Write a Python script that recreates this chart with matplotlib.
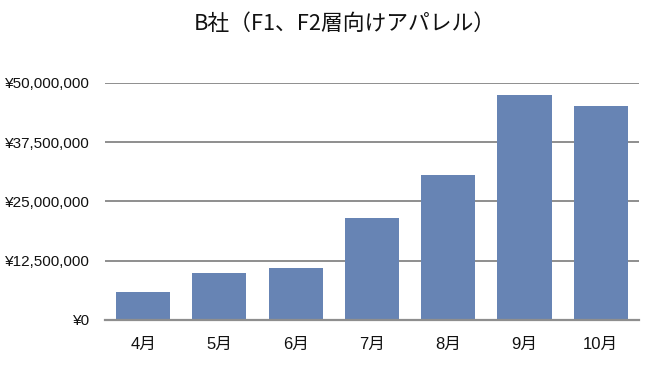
import matplotlib
matplotlib.use("Agg")
import matplotlib.pyplot as plt
from matplotlib.ticker import FuncFormatter

plt.rcParams['font.family'] = ['Liberation Sans', 'Noto Sans CJK JP', 'DejaVu Sans']

# B社 monthly sales (yen)
months = ["4月", "5月", "6月", "7月", "8月", "9月", "10月"]
sales = [5900000, 9850000, 10900000, 21400000, 30550000, 47400000, 45100000]
y_ticks = [0, 12500000, 25000000, 37500000, 50000000]
title = "B社（F1、F2層向けアパレル）"

fig = plt.figure(figsize=(6.5, 3.76), dpi=100)
ax = fig.add_axes([0.1615, 0.149, 0.8215, 0.631])

x = range(len(months))
ax.bar(x, sales, width=0.71, color="#6784B4", zorder=3)

ax.set_xlim(-0.5, len(months) - 0.5)
ax.set_ylim(0, 50000000)
ax.set_yticks(y_ticks)
ax.yaxis.set_major_formatter(FuncFormatter(lambda v, p: "¥{:,.0f}".format(v)))
ax.set_xticks(list(x))
ax.set_xticklabels(months)

ax.grid(axis="y", color="#8e8e8e", linewidth=1.4, zorder=1)
for s in ["top", "right", "left"]:
    ax.spines[s].set_visible(False)
ax.spines["bottom"].set_color("#8e8e8e")
ax.spines["bottom"].set_linewidth(1.6)
ax.spines["bottom"].set_zorder(4)
ax.tick_params(axis="both", length=0, colors="#111111")
ax.tick_params(axis="y", pad=11, labelsize=11)
ax.tick_params(axis="x", pad=12, labelsize=12)

fig.text(0.531, 0.936, title, ha="center", va="center", fontsize=15.7,
         family=['Noto Sans CJK JP', 'DejaVu Sans'], color="#111111")

fig.savefig("out.png", dpi=100)
